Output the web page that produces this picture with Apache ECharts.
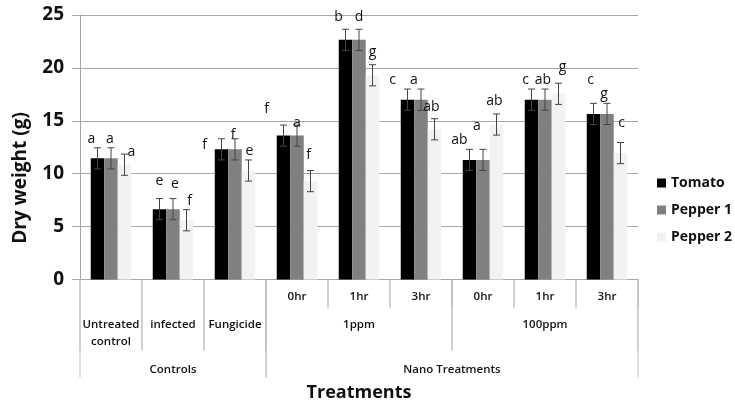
<!DOCTYPE html>
<html>
<head>
<meta charset="utf-8">
<script src="https://cdn.jsdelivr.net/npm/echarts@6/dist/echarts.min.js"></script>
<style>
  html, body { margin: 0; padding: 0; background: #fff; }
  #chart { width: 735px; height: 407px; }
</style>
</head>
<body>
<div id="chart"></div>
<script>
// categories (one per bar group) and the three label rows under the axis
const hourLabels = ["", "", "", "0hr", "1hr", "3hr", "0hr", "1hr", "3hr"]
const treatmentLabels = ["Untreated\ncontrol", "infected", "Fungicide", "1ppm", "100ppm"]
const treatmentSpans = [1, 1, 1, 3, 3]
const groupLabels = ["Controls", "Nano Treatments"]
const groupSpans = [3, 6]

const seriesNames = ["Tomato", "Pepper 1", "Pepper 2"]
const tomato = [11.45, 6.65, 12.3, 13.6, 22.65, 17.0, 11.3, 17.0, 15.65]
const pepper1 = [11.45, 6.65, 12.3, 13.6, 22.65, 17.0, 11.3, 17.0, 15.65]
const pepper2 = [10.85, 5.6, 10.3, 9.3, 19.3, 14.2, 14.65, 17.55, 11.95]
const tomatoErr = [1.0, 1.0, 1.0, 1.0, 1.0, 1.0, 1.0, 1.0, 1.0]
const pepper1Err = [1.0, 1.0, 1.0, 1.0, 1.0, 1.0, 1.0, 1.0, 1.0]
const pepper2Err = [1.0, 1.0, 1.0, 1.0, 1.0, 1.0, 1.0, 1.0, 1.0]
const tomatoLetters = ["a", "e", "f", "f", "b", "c", "ab", "c", "c"]
const pepper1Letters = ["a", "e", "f", "a", "d", "a", "a", "ab", "g"]
const pepper2Letters = ["a", "f", "e", "f", "g", "ab", "ab", "g", "c"]

// hand placement of the significance letters, [dx, dy] in pixels
const tomatoNudge = [[-6, 0], [0, -9], [-17, 15], [-17, -7], [-7, -3], [-15, 0], [-10, 0], [-6, 0], [-3, -14]]
const pepper1Nudge = [[-1, 0], [2, -6], [-2, 5], [0, 7], [0, -3], [-7, 0], [-6, -14], [-2, 0], [-3, 0]]
const pepper2Nudge = [[7, 7], [3, 0], [1, 0], [-2, -7], [0, -4], [-3, -3], [-2, -4], [4, -7], [1, -10]]

const colors = ["#000000", "#808080", "#f2f2f2"]
const FONT = "Open Sans"
const BAR_W = 13.5

// build the cells of the label table under the x axis
const cells = []
hourLabels.forEach((t, i) => {
  if (t) cells.push({ text: t, start: i, end: i, row: 0 })
})
let pos = 0
treatmentLabels.forEach((t, i) => {
  const span = treatmentSpans[i]
  cells.push({ text: t, start: pos, end: pos + span - 1, row: 1 })
  pos += span
})
pos = 0
groupLabels.forEach((t, i) => {
  const span = groupSpans[i]
  cells.push({ text: t, start: pos, end: pos + span - 1, row: 2 })
  pos += span
})

const rowTextY = [17.5, 37, 82]
const rowDepth = [28, 71, 98]
const lineColor = "#bfbfbf"

function renderCell(params, api) {
  const c = cells[params.dataIndex]
  const band = api.size([1, 0])[0]
  const x0 = api.coord([c.start, 0])[0] - band / 2
  const x1 = api.coord([c.end, 0])[0] + band / 2
  const yb = api.coord([0, 0])[1]
  const d = rowDepth[c.row]
  return {
    type: "group",
    children: [
      { type: "line", shape: { x1: x0, y1: yb, x2: x0, y2: yb + d }, style: { stroke: lineColor, lineWidth: 1 } },
      { type: "line", shape: { x1: x1, y1: yb, x2: x1, y2: yb + d }, style: { stroke: lineColor, lineWidth: 1 } },
      {
        type: "text",
        style: {
          text: c.text,
          x: (x0 + x1) / 2,
          y: yb + rowTextY[c.row],
          align: "center",
          verticalAlign: c.row === 0 ? "middle" : "top",
          font: "600 11.5px '" + FONT + "'",
          fill: "#111",
          lineHeight: 17
        }
      }
    ]
  }
}

function errorSeries(k, values, errs, letters, nudge) {
  return {
    type: "custom",
    name: seriesNames[k] + " err",
    z: 5,
    silent: true,
    data: values.map((v, i) => [i, v, errs[i]]),
    encode: { x: 0, y: 1 },
    renderItem(params, api) {
      const i = api.value(0)
      const v = api.value(1)
      const e = api.value(2)
      const off = (k - 1) * BAR_W
      const top = api.coord([i, v + e])
      const bot = api.coord([i, v - e])
      const x = top[0] + off
      const n = nudge[params.dataIndex]
      return {
        type: "group",
        children: [
          { type: "line", shape: { x1: x, y1: top[1], x2: x, y2: bot[1] }, style: { stroke: "#444", lineWidth: 1 } },
          { type: "line", shape: { x1: x - 3.5, y1: top[1], x2: x + 3.5, y2: top[1] }, style: { stroke: "#444", lineWidth: 1 } },
          { type: "line", shape: { x1: x - 3.5, y1: bot[1], x2: x + 3.5, y2: bot[1] }, style: { stroke: "#444", lineWidth: 1 } },
          {
            type: "text",
            style: {
              text: letters[params.dataIndex],
              x: x + n[0],
              y: top[1] - 2 + n[1],
              align: "center",
              verticalAlign: "bottom",
              font: "14px '" + FONT + "'",
              fill: "#111"
            }
          }
        ]
      }
    }
  }
}

const chart = echarts.init(document.getElementById("chart"), null, { renderer: "canvas" })

chart.setOption({
  backgroundColor: "#ffffff",
  animation: false,
  color: colors,
  grid: { left: 80, right: 97, top: 15, bottom: 127.5, containLabel: false },
  legend: {
    orient: "vertical",
    left: 652,
    top: 171,
    itemWidth: 9,
    itemHeight: 9,
    itemGap: 13,
    icon: "rect",
    data: seriesNames,
    textStyle: { fontFamily: FONT, fontWeight: "bold", fontSize: 14, color: "#111" }
  },
  xAxis: {
    type: "category",
    data: hourLabels.map((h, i) => i),
    axisLine: { show: true, lineStyle: { color: "#a6a6a6" } },
    axisTick: { show: false },
    axisLabel: { show: false },
    name: "Treatments",
    nameLocation: "middle",
    nameGap: 104,
    nameTextStyle: { fontFamily: FONT, fontWeight: "bold", fontSize: 18, color: "#111", verticalAlign: "top" }
  },
  yAxis: {
    type: "value",
    min: 0,
    max: 25,
    interval: 5,
    axisLine: { show: true, lineStyle: { color: "#a6a6a6" } },
    axisTick: { show: true, length: 8, lineStyle: { color: "#a6a6a6" } },
    axisLabel: { fontFamily: FONT, fontWeight: "bold", fontSize: 19, color: "#111", margin: 16 },
    splitLine: { show: true, lineStyle: { color: "#a6a6a6" } }
  },
  graphic: [
    {
      type: "text",
      x: 21,
      y: 178,
      rotation: Math.PI / 2,
      style: {
        text: "Dry weight (g)",
        align: "center",
        verticalAlign: "middle",
        font: "bold 19px '" + FONT + "'",
        fill: "#111"
      }
    }
  ],
  series: [
    { name: seriesNames[0], type: "bar", data: tomato, barWidth: BAR_W, barGap: "0%" },
    { name: seriesNames[1], type: "bar", data: pepper1, barWidth: BAR_W, barGap: "0%" },
    { name: seriesNames[2], type: "bar", data: pepper2, barWidth: BAR_W, barGap: "0%" },
    errorSeries(0, tomato, tomatoErr, tomatoLetters, tomatoNudge),
    errorSeries(1, pepper1, pepper1Err, pepper1Letters, pepper1Nudge),
    errorSeries(2, pepper2, pepper2Err, pepper2Letters, pepper2Nudge),
    {
      type: "custom",
      silent: true,
      clip: false,
      data: cells.map(c => [c.start, 0]),
      encode: { x: 0, y: 1 },
      renderItem: renderCell
    }
  ]
})
</script>
</body>
</html>
